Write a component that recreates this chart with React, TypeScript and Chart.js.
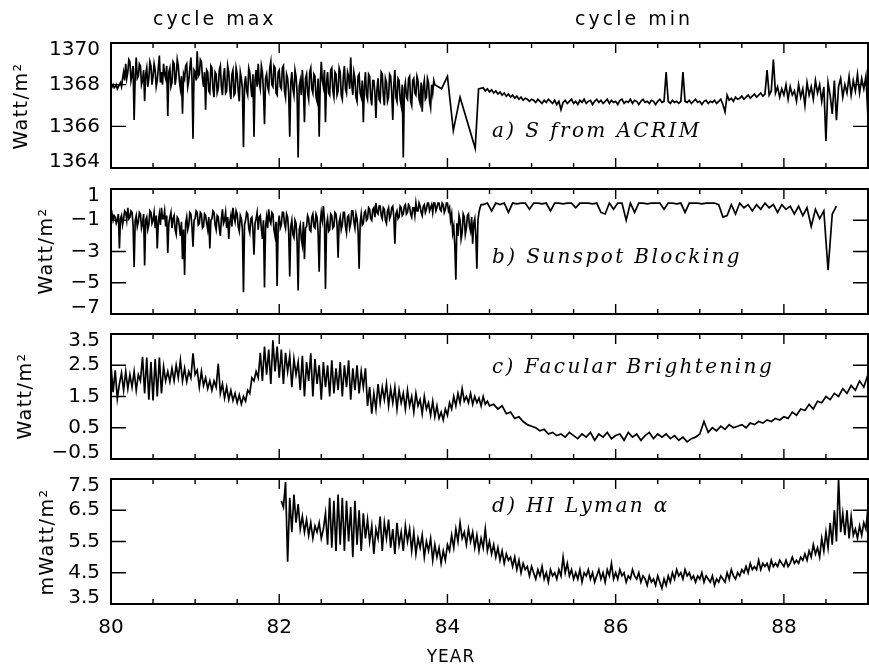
import { useEffect, useRef } from 'react';
import { Chart, registerables } from 'chart.js';

Chart.register(...registerables);

// ---------------- axes ----------------
const X_MIN = 80;
const X_MAX = 89;
const X_TICKS = [80, 82, 84, 86, 88];
const X_LABELS = ['80', '82', '84', '86', '88'];
const X_MINOR = [80.5, 81, 81.5, 82, 82.5, 83, 83.5, 84, 84.5, 85, 85.5, 86, 86.5, 87, 87.5, 88, 88.5];
const X_MAJOR = [82, 84, 86, 88];

const A_TICKS = [1364, 1366, 1368, 1370];
const A_LABELS = ['1364', '1366', '1368', '1370'];
const B_TICKS = [-7, -5, -3, -1, 1];
const B_LABELS = ['\u22127', '\u22125', '\u22123', '\u22121', '1'];
const C_TICKS = [-0.5, 0.5, 1.5, 2.5, 3.5];
const C_LABELS = ['\u22120.5', '0.5', '1.5', '2.5', '3.5'];
const D_TICKS = [3.5, 4.5, 5.5, 6.5, 7.5];
const D_LABELS = ['3.5', '4.5', '5.5', '6.5', '7.5'];

// ---------------- data ----------------
// a) S from ACRIM (W/m^2)
const A1_START = 80.0;
const A1_STEP = 0.0125;
const A1_VALUES = [
  1368.0, 1367.9, 1368.0, 1367.85, 1367.9, 1368.0, 1367.8, 1367.9, 1368.0, 1368.1,
  1367.9, 1368.3, 1368.6, 1368.2, 1369.0, 1368.3, 1368.6, 1369.2, 1369.1, 1368.2,
  1368.5, 1368.9, 1366.3, 1368.4, 1369.3, 1368.3, 1368.4, 1369.0, 1368.9, 1368.0,
  1368.2, 1368.7, 1367.2, 1368.5, 1368.8, 1367.9, 1368.3, 1369.1, 1368.9, 1368.0,
  1368.4, 1369.0, 1368.7, 1367.9, 1368.2, 1368.8, 1369.4, 1368.1, 1368.6, 1368.0,
  1369.0, 1368.5, 1368.3, 1368.9, 1366.5, 1368.6, 1368.8, 1367.9, 1368.1, 1369.1,
  1369.0, 1368.0, 1368.4, 1369.2, 1368.9, 1368.2, 1367.8, 1368.4, 1366.6, 1368.5,
  1368.3, 1368.9, 1369.0, 1367.9, 1368.2, 1368.8, 1369.3, 1368.3, 1365.4, 1368.7,
  1368.6, 1368.2, 1369.6, 1368.4, 1368.5, 1369.2, 1369.1, 1368.3, 1367.9, 1368.6,
  1366.8, 1368.7, 1368.6, 1367.7, 1367.6, 1368.9, 1368.8, 1367.8, 1367.4, 1368.6,
  1368.5, 1367.6, 1367.8, 1368.7, 1368.9, 1367.9, 1367.5, 1368.4, 1368.8, 1367.6,
  1367.7, 1368.9, 1368.6, 1367.8, 1367.3, 1368.5, 1368.7, 1367.5, 1367.6, 1368.8,
  1368.5, 1367.7, 1367.2, 1368.6, 1368.3, 1367.8, 1365.0, 1368.0, 1368.4, 1367.7,
  1367.5, 1368.8, 1368.6, 1367.9, 1367.4, 1368.5, 1365.5, 1368.2, 1368.7, 1367.9,
  1369.0, 1368.1, 1367.8, 1368.9, 1368.6, 1367.7, 1366.1, 1368.3, 1368.5, 1367.9,
  1367.7, 1368.8, 1369.1, 1368.0, 1367.9, 1368.9, 1368.8, 1367.6, 1367.5, 1368.6,
  1368.7, 1367.9, 1367.8, 1368.8, 1368.9, 1367.7, 1367.4, 1368.5, 1368.3, 1367.6,
  1365.5, 1368.1, 1368.6, 1367.8, 1367.5, 1368.7, 1368.4, 1367.6, 1364.5, 1367.9,
  1368.2, 1367.5, 1368.7, 1367.8, 1366.2, 1368.3, 1368.5, 1367.6, 1367.3, 1368.6,
  1368.8, 1367.8, 1367.6, 1368.5, 1368.4, 1367.4, 1367.2, 1368.3, 1365.5, 1368.0,
  1369.1, 1368.2, 1367.9, 1368.7, 1366.2, 1368.1, 1368.6, 1367.6, 1367.5, 1368.7,
  1368.8, 1367.7, 1367.4, 1368.6, 1368.5, 1367.5, 1367.7, 1368.8, 1368.6, 1367.5,
  1367.3, 1368.4, 1368.9, 1367.8, 1367.6, 1368.6, 1368.4, 1367.8, 1369.3, 1368.0,
  1367.5, 1368.6, 1368.3, 1367.4, 1367.2, 1368.4, 1368.5, 1367.6, 1367.4, 1368.2,
  1366.2, 1367.9, 1368.6, 1367.5, 1367.3, 1368.5, 1368.4, 1367.4, 1367.0, 1368.2,
  1368.2, 1367.6, 1366.4, 1367.8, 1368.3, 1367.3, 1367.2, 1368.6, 1368.5, 1367.5,
  1367.0, 1368.3, 1368.1, 1367.2, 1367.4, 1368.5, 1368.4, 1367.6, 1366.3, 1368.0,
  1368.7, 1367.4, 1367.2, 1368.3, 1368.2, 1367.3, 1367.0, 1368.0, 1364.5, 1367.8,
  1368.1, 1367.4, 1367.3, 1368.3, 1368.4, 1367.2, 1367.0, 1368.2, 1368.3, 1367.6,
  1367.5, 1368.4, 1368.2, 1367.3, 1367.1, 1368.1, 1366.7, 1367.9, 1368.2, 1367.3,
  1367.4, 1368.3, 1368.1, 1367.2, 1366.9, 1368.0, 1367.6, 1368.2, 1368.0,
];
const A2_YEARS = [83.93, 84.0, 84.07, 84.15, 84.33, 84.37];
const A2_VALUES = [1367.8, 1368.4, 1365.8, 1367.4, 1364.95, 1367.8];
const A3_START = 84.425;
const A3_STEP = 0.025;
const A3_VALUES = [
  1367.85, 1367.7, 1367.8, 1367.65,
  1367.75, 1367.6, 1367.7, 1367.55, 1367.65, 1367.5, 1367.6, 1367.45, 1367.55, 1367.4,
  1367.5, 1367.35, 1367.45, 1367.3, 1367.4, 1367.25, 1367.35, 1367.3, 1367.2, 1367.3,
  1367.25, 1367.15, 1367.3, 1367.2, 1367.1, 1367.25, 1367.15, 1367.3, 1367.2, 1367.1,
  1367.25, 1367.05, 1367.2, 1366.8, 1367.15, 1367.25, 1367.1, 1367.2, 1367.3, 1367.1,
  1367.2, 1367.05, 1367.25, 1367.15,
  1367.3, 1367.1, 1367.2, 1367.25, 1367.05, 1367.2, 1367.3, 1367.15, 1367.25, 1367.1,
  1367.2, 1367.3, 1367.1, 1367.25, 1367.15, 1367.2, 1367.05, 1367.25, 1367.3, 1367.1,
  1367.2, 1367.15, 1367.3, 1367.1, 1367.25, 1367.2, 1367.05, 1367.2, 1367.3, 1367.15,
  1367.2, 1367.1, 1367.25, 1367.2, 1367.05, 1367.2, 1367.3, 1367.15, 1367.2,
  1368.6,
  1367.2, 1367.1, 1367.25, 1367.15, 1367.2, 1367.1, 1367.2,
  1368.6,
  1367.2, 1367.15, 1367.25, 1367.1, 1367.2, 1367.3, 1367.15, 1367.2, 1367.05, 1367.2,
  1367.25, 1367.1, 1367.2, 1367.15, 1367.25, 1367.1, 1367.2, 1367.3, 1367.05,
  1366.7, 1367.5,
  1367.25, 1367.35, 1367.2, 1367.4, 1367.3, 1367.35, 1367.45, 1367.3, 1367.4, 1367.5,
  1367.35, 1367.45, 1367.55, 1367.4, 1367.5, 1367.6, 1367.45, 1367.55,
  1368.7,
  1367.5, 1367.7, 1369.2, 1367.6,
  1367.9, 1367.4, 1367.8, 1367.5, 1368.0, 1367.3, 1367.9, 1367.5, 1367.7, 1367.2,
  1368.0, 1367.4, 1367.8, 1367.0, 1368.1, 1367.5, 1367.9, 1367.3, 1368.2, 1367.6,
  1368.0, 1367.2, 1367.9, 1365.3, 1368.1, 1367.5, 1366.6, 1368.2, 1366.3, 1367.9,
  1368.3, 1367.4, 1368.0, 1367.6, 1368.4, 1367.5, 1368.2, 1367.7, 1368.5, 1367.6,
  1368.3, 1367.8, 1368.4, 1366.4,
];

// b) Sunspot Blocking (W/m^2)
const B1_START = 80.0;
const B1_STEP = 0.0125;
const B1_VALUES = [
  -0.9, -0.6, -1.0, -0.7, -0.8, -1.2, -1.0, -0.6, -2.8, -0.9,
  -0.7, -1.3, -0.9, -0.4, -0.5, -1.0, -0.2, -0.9, -0.8, -0.4,
  -0.5, -1.3, -4.0, -1.0, -0.7, -1.4, -1.1, -0.5, -0.6, -1.5,
  -1.2, -0.6, -3.9, -1.0, -0.8, -1.6, -1.3, -0.4, -0.5, -1.2,
  -1.0, -0.5, -1.5, -0.7, -2.8, -1.1, -0.6, -1.3, -0.2, -0.9,
  -0.9, -0.4, -1.4, -0.7, -3.1, -1.2, -0.8, -0.5, -1.5, -0.9,
  -0.7, -1.6, -1.9, -0.8, -0.9, -1.4, -2.0, -1.1, -3.5, -1.6,
  -4.5, -1.2, -0.8, -1.6, -1.3, -0.5, -0.6, -1.4, -2.7, -1.0,
  -0.9, -0.4, -0.5, -1.3, -1.2, -0.5, -0.6, -1.5, -1.4, -0.6,
  -0.7, -1.2, -1.6, -0.8, -2.8, -1.0, -0.9, -0.4, -0.5, -1.3,
  -1.6, -0.7, -0.8, -1.5, -2.0, -0.9, -0.3, -1.2, -1.0, -0.5,
  -1.5, -0.8, -2.2, -1.1, -0.7, -1.4, -0.2, -0.8, -1.1, -0.4,
  -0.6, -1.4, -1.7, -0.7, -0.9, -1.6, -5.6, -1.3, -1.0, -0.5,
  -0.6, -1.5, -1.8, -0.9, -0.8, -1.6, -3.2, -1.2, -0.9, -0.5,
  -1.6, -0.8, -0.7, -1.5, -2.2, -1.0, -5.3, -1.4, -0.8, -1.5,
  -0.3, -1.0, -1.2, -0.5, -0.6, -1.6, -2.0, -1.1, -5.2, -1.3,
  -0.7, -1.5, -1.3, -0.5, -0.5, -1.2, -1.5, -0.6, -0.8, -1.7,
  -4.6, -1.4, -1.0, -1.9, -2.1, -1.0, -1.2, -2.4, -5.5, -1.6,
  -1.3, -2.2, -2.6, -1.1, -3.5, -1.5, -1.4, -0.7, -0.9, -1.6,
  -1.7, -0.8, -0.6, -1.4, -1.5, -0.6, -0.8, -1.8, -4.3, -1.2,
  -0.5, -1.0, -0.1, -0.9, -5.4, -1.3, -0.9, -1.7, -1.6, -0.6,
  -0.7, -1.5, -1.4, -0.5, -0.6, -1.3, -3.4, -1.1, -0.8, -1.6,
  -1.3, -0.5, -0.5, -1.4, -1.8, -0.8, -0.7, -1.5, -1.2, -0.4,
  -0.4, -1.1, -1.5, -0.6, -0.9, -1.7, -4.1, -1.2, -0.6, -1.3,
  -1.2, -0.5, -0.4, -1.0, -0.9, -0.2, -0.3, -0.9, -1.0, -0.3,
  -0.2, -0.8, 0.1, -0.5, -0.6, -0.1, -0.1, -0.7, -0.9, -0.2,
  -0.3, -1.0, -1.2, -0.4, -0.2, -0.9, -0.7, -0.2, -0.1, -0.8,
  -2.5, -0.6, -0.4, -0.9, -0.8, -0.1, -0.2, -0.7, -0.6, -0.1,
  0.0, -0.6, -0.5, 0.0, -0.1, -0.6, -0.8, -0.2, -0.2, -0.7,
  0.1, -0.4, -0.4, 0.1, -0.1, -0.5, -0.7, -0.1, 0.0, -0.5,
  -0.3, 0.1, 0.1, -0.4, -0.2, 0.0, -0.5, 0.1, 0.1, -0.4,
  -0.2, 0.1, 0.1, -0.3, -0.4, 0.1, 0.0, -0.5, -0.3, 0.1,
  0.1, -0.4, -0.2, -1.0, -0.6, -1.8, -1.4, -2.6, -4.8, -1.2,
  -2.0, -0.7, -1.0, -2.2, -1.8, -0.6, -0.8, -1.9, -1.5, -0.7,
  -0.6, -1.4, -1.7, -0.8, -2.5, -1.2, -0.9, -2.0, -4.1, -1.0,
  -0.5, -0.2, 0.0,
];
const B2_START = 84.425;
const B2_STEP = 0.05;
const B2_VALUES = [
  0.0, 0.1, -0.4, 0.1, 0.0, 0.1, -0.5, 0.1, 0.05, 0.1,
  0.1, -0.3, 0.1, 0.1, 0.05, 0.1, -0.4, 0.1, 0.1, 0.05,
  0.1, 0.1, -0.2, 0.1, 0.1, 0.1, 0.05, 0.1, -0.5, -0.6,
  0.1, -0.3, 0.1, 0.1, -1.0, 0.1, -0.5, 0.1, 0.1, 0.05,
  0.1, 0.1, 0.1, -0.3, 0.1, 0.1, 0.05, 0.1, -0.5, 0.1,
  0.1, 0.1, 0.05, 0.1, 0.1, 0.1, 0.0, -0.8, -0.7, 0.0,
  -0.6, 0.1, -0.2, 0.0, -0.4, 0.0, -0.3, 0.1, -0.2, 0.0,
  -0.5, 0.0, -0.3, -0.1, -0.6, -0.1, -0.7, -0.2, -1.4, -0.3,
  -0.9, -0.4, -4.2, -0.6, -0.1,
];

// c) Facular Brightening (W/m^2)
const C1_START = 80.0;
const C1_STEP = 0.025;
const C1_VALUES = [
  2.5, 1.64, 2.34, 1.43, 1.9, 2.25, 1.7, 2.3, 1.75, 2.2,
  1.8, 2.3, 1.7, 2.2, 2.0, 2.77, 1.6, 2.75, 1.4, 2.6,
  1.37, 2.7, 1.5, 2.75, 1.6, 2.45, 2.0, 2.3, 1.97, 2.4,
  2.0, 2.5, 2.1, 2.66, 2.0, 2.4, 1.97, 2.3, 2.1, 2.88,
  2.2, 2.34, 1.8, 2.3, 1.85, 2.1, 1.75, 2.0, 1.7, 2.0,
  1.8, 2.55, 1.6, 1.9, 1.45, 1.8, 1.4, 1.7, 1.37, 1.6,
  1.3, 1.55, 1.26, 1.5, 1.35, 1.7, 1.6, 2.1, 2.0, 2.3,
  2.1, 2.9, 2.0, 3.1, 2.2, 3.0, 1.9, 3.3, 2.3, 3.1,
  2.1, 3.0, 1.9, 2.9, 2.3, 2.8, 1.8, 2.7, 2.2, 2.6,
  1.7, 2.8, 1.5, 2.6, 2.0, 2.88, 1.5, 2.7, 1.9, 2.5,
  1.4, 2.6, 1.8, 2.5, 1.5, 2.66, 1.6, 2.4, 1.7, 2.6,
  1.5, 2.5, 1.8, 2.66, 1.4, 2.4, 1.7, 2.5, 1.6, 2.3,
  1.8, 2.4, 1.2, 1.8, 0.95, 1.6, 1.1, 1.9, 1.3, 1.8,
  1.4, 1.9, 1.2, 1.75, 1.3, 1.8, 1.1, 1.7, 1.3, 1.6,
  1.1, 1.7, 1.2, 1.5, 1.0, 1.6, 1.2, 1.4, 0.95, 1.5,
  1.1, 1.3, 0.9, 1.35, 0.85, 1.2, 0.8, 1.0, 0.75, 1.1,
  0.9, 1.3, 1.1, 1.5, 1.2, 1.6, 1.3, 1.75, 1.35, 1.5,
  1.3, 1.6, 1.25, 1.5, 1.3, 1.45, 1.2, 1.5, 1.25, 1.35,
  1.2,
];
const C2_START = 84.55;
const C2_STEP = 0.05;
const C2_VALUES = [
  1.25, 1.1, 1.2, 0.95, 1.0, 0.8, 0.85, 0.7, 0.6, 0.55,
  0.5, 0.4, 0.45, 0.3, 0.35, 0.25, 0.3, 0.2, 0.35, 0.25,
  0.15, 0.3, 0.2, 0.35, 0.1, 0.3, 0.2, 0.35, 0.15, 0.25,
  0.3, 0.1, 0.35, 0.2, 0.3, 0.1, 0.25, 0.35, 0.15, 0.3,
  0.2, 0.3, 0.15, 0.25, 0.1, 0.2, 0.05, 0.15, 0.2, 0.3,
  0.7, 0.35, 0.5, 0.4, 0.55, 0.45, 0.6, 0.5, 0.55, 0.6,
  0.5, 0.65, 0.6, 0.7, 0.65, 0.75, 0.7, 0.8, 0.75, 0.85,
  0.8, 1.0, 0.9, 1.1, 1.05, 1.25, 1.1, 1.35, 1.3, 1.5,
  1.4, 1.6, 1.5, 1.75, 1.6, 1.85, 1.7, 2.0, 1.8, 2.2,
];

// d) HI Lyman alpha (mW/m^2)
const D_START = 82.025;
const D_STEP = 0.025;
const D_VALUES = [
  6.8, 6.6, 7.4, 4.85, 6.9, 5.8, 7.0, 6.1, 6.7, 5.9,
  6.3, 5.8, 6.2, 5.7, 6.1, 5.6, 6.0, 5.8, 6.1, 5.6,
  5.9, 6.4, 5.4, 6.9, 5.3, 6.8, 5.2, 7.0, 5.4, 6.9,
  5.2, 6.8, 5.5, 6.6, 5.0, 6.8, 5.4, 6.5, 5.2, 6.4,
  5.6, 6.2, 5.5, 6.0, 5.1, 5.9, 5.6, 6.3, 5.2, 6.1,
  5.6, 6.2, 5.3, 5.9, 5.1, 6.1, 5.4, 5.8, 5.2, 6.0,
  5.5, 5.9, 5.2, 5.8, 5.1, 5.6, 5.3, 5.7, 5.0, 5.5,
  5.2, 5.6, 4.9, 5.4, 5.0, 5.3, 4.8, 5.2, 4.9, 5.4,
  5.2, 5.7, 5.3, 5.9, 5.5, 6.1, 5.6, 5.8, 5.4, 5.9,
  5.5, 5.8, 5.3, 5.7, 5.2, 5.6, 5.3, 5.9, 5.2, 5.5,
  5.1, 5.4, 5.0, 5.3, 4.9, 5.2, 4.8, 5.1, 4.9, 5.0,
  4.7, 5.0, 4.6, 4.9, 4.5, 4.8, 4.6, 4.7, 4.4, 4.7,
  4.5, 4.3, 4.6, 4.4, 4.7, 4.3, 4.5, 4.2, 4.6, 4.4,
  4.5, 4.3, 4.6, 4.4, 5.0, 4.5, 4.8, 4.4, 4.6, 4.3,
  4.5, 4.3, 4.6, 4.2, 4.5, 4.4, 4.6, 4.3, 4.5, 4.2,
  4.4, 4.6, 4.3, 4.5, 4.2, 4.6, 4.4, 4.8, 4.3, 4.5,
  4.3, 4.6, 4.4, 4.5, 4.2, 4.4, 4.3, 4.6, 4.4, 4.3,
  4.5, 4.2, 4.4, 4.3, 4.1, 4.4, 4.2, 4.3, 4.1, 4.4,
  4.2, 4.0, 4.3, 4.1, 4.4, 4.2, 4.5, 4.3, 4.6, 4.4,
  4.5, 4.3, 4.6, 4.4, 4.5, 4.3, 4.4, 4.2, 4.4, 4.3,
  4.5, 4.2, 4.4, 4.3, 4.2, 4.4, 4.1, 4.3, 4.2, 4.4,
  4.3, 4.2, 4.5, 4.3, 4.6, 4.4, 4.3, 4.5, 4.4, 4.6,
  4.5, 4.7, 4.5, 4.8, 4.6, 4.7, 4.6, 4.9, 4.6, 4.8,
  4.7, 4.8, 4.6, 4.9, 4.7, 4.8, 4.7, 4.9, 4.8, 4.7,
  4.9, 4.7, 4.8, 5.0, 4.8, 4.9, 4.8, 5.0, 4.9, 5.1,
  4.9, 5.2, 5.0, 5.4, 5.1, 5.3, 5.0, 5.6, 5.2, 5.8,
  5.3, 6.1, 5.4, 6.5, 5.5, 7.5, 5.8, 6.4, 5.7, 6.5,
  5.6, 6.3, 5.7, 5.9, 5.6, 6.0, 5.7, 6.1, 5.9, 6.6,
];

// ---------------- helpers ----------------
type Pt = { x: number; y: number };
const stepSeries = (start: number, step: number, vals: number[]): Pt[] =>
  vals.map((y, i) => ({ x: Math.round((start + i * step) * 10000) / 10000, y }));
const pairSeries = (xs: number[], ys: number[]): Pt[] => xs.map((x, i) => ({ x, y: ys[i] }));

const SANS = "'DejaVu Sans', 'Verdana', sans-serif";
const SERIF = "'DejaVu Serif', serif";
const PLOT_H = 125;
const PAD = 25;
const LABEL_NUDGE_TOP = 7;
const LABEL_NUDGE_BOTTOM = 6;
const X_AXIS_H = 45;
const TICK_FONT = 20;

type PanelCfg = {
  id: string;
  plotTop: number;
  showX: boolean;
  yMin: number;
  yMax: number;
  yTicks: number[];
  yLabels: string[];
  points: Pt[];
};

const PANELS: PanelCfg[] = [
  {
    id: 'a', plotTop: 43, showX: false,
    yMin: 1364, yMax: 1370, yTicks: A_TICKS, yLabels: A_LABELS,
    points: [
      ...stepSeries(A1_START, A1_STEP, A1_VALUES),
      ...pairSeries(A2_YEARS, A2_VALUES),
      ...stepSeries(A3_START, A3_STEP, A3_VALUES),
    ],
  },
  {
    id: 'b', plotTop: 189, showX: false,
    yMin: -7, yMax: 1, yTicks: B_TICKS, yLabels: B_LABELS,
    points: [...stepSeries(B1_START, B1_STEP, B1_VALUES), ...stepSeries(B2_START, B2_STEP, B2_VALUES)],
  },
  {
    id: 'c', plotTop: 334, showX: false,
    yMin: -0.5, yMax: 3.5, yTicks: C_TICKS, yLabels: C_LABELS,
    points: [...stepSeries(C1_START, C1_STEP, C1_VALUES), ...stepSeries(C2_START, C2_STEP, C2_VALUES)],
  },
  {
    id: 'd', plotTop: 479, showX: true,
    yMin: 3.5, yMax: 7.5, yTicks: D_TICKS, yLabels: D_LABELS,
    points: stepSeries(D_START, D_STEP, D_VALUES),
  },
];

function makeFramePlugin(yTicks: number[]) {
  return {
    id: 'frameTicks',
    afterDatasetsDraw(chart: any) {
      const { ctx, chartArea: a } = chart;
      const xs = chart.scales.x;
      const ys = chart.scales.y;
      ctx.save();
      ctx.strokeStyle = '#000';
      ctx.lineWidth = 1.4;
      ctx.beginPath();
      for (const v of X_MINOR) {
        const px = xs.getPixelForValue(v);
        const len = X_MAJOR.includes(v) ? 10 : 5;
        ctx.moveTo(px, a.bottom);
        ctx.lineTo(px, a.bottom - len);
        ctx.moveTo(px, a.top);
        ctx.lineTo(px, a.top + len);
      }
      for (const v of yTicks.slice(1, -1)) {
        const py = ys.getPixelForValue(v);
        ctx.moveTo(a.left, py);
        ctx.lineTo(a.left + 15, py);
        ctx.moveTo(a.right, py);
        ctx.lineTo(a.right - 15, py);
      }
      ctx.stroke();
      ctx.lineWidth = 2;
      ctx.strokeRect(a.left, a.top, a.right - a.left, a.bottom - a.top);
      ctx.restore();
    },
  };
}

function Panel({ cfg }: { cfg: PanelCfg }) {
  const ref = useRef<HTMLCanvasElement | null>(null);
  const canvasTop = cfg.plotTop - PAD;
  const padBottom = cfg.showX ? 5 : PAD;
  const canvasH = PAD + PLOT_H + (cfg.showX ? X_AXIS_H : 0) + padBottom;
  useEffect(() => {
    const canvas = ref.current;
    if (!canvas) return;
    const span = cfg.yMax - cfg.yMin;
    const chart = new Chart(canvas, {
      type: 'line',
      data: {
        datasets: [
          {
            data: cfg.points as any,
            borderColor: '#000',
            borderWidth: 1.7,
            pointRadius: 0,
            tension: 0,
            fill: false,
          },
        ],
      },
      options: {
        animation: false,
        responsive: false,
        maintainAspectRatio: false,
        parsing: false,
        events: [],
        layout: { padding: { top: PAD, bottom: padBottom, left: 0, right: 1 } },
        plugins: { legend: { display: false }, tooltip: { enabled: false }, title: { display: false } },
        scales: {
          x: {
            type: 'linear',
            min: X_MIN,
            max: X_MAX,
            display: cfg.showX,
            position: 'bottom',
            grid: { display: false, drawTicks: false },
            border: { display: false },
            ticks: {
              color: '#000',
              font: { family: SANS, size: TICK_FONT },
              padding: 12,
              maxRotation: 0,
              autoSkip: false,
              callback: (_v: any, i: number) => X_LABELS[i],
            },
            afterBuildTicks: (s: any) => {
              s.ticks = X_TICKS.map((v) => ({ value: v }));
            },
            afterFit: (s: any) => {
              if (cfg.showX) s.height = X_AXIS_H;
            },
          },
          y: {
            type: 'linear',
            min: cfg.yMin,
            max: cfg.yMax,
            position: 'left',
            grid: { display: false, drawTicks: false },
            border: { display: false },
            ticks: {
              color: '#000',
              font: { family: SANS, size: TICK_FONT },
              padding: 11,
              autoSkip: false,
              callback: (_v: any, i: number) => cfg.yLabels[i],
            },
            afterBuildTicks: (s: any) => {
              const last = cfg.yTicks.length - 1;
              s.ticks = cfg.yTicks.map((v, i) => ({
                value:
                  i === 0
                    ? v + (LABEL_NUDGE_BOTTOM * span) / PLOT_H
                    : i === last
                    ? v - (LABEL_NUDGE_TOP * span) / PLOT_H
                    : v,
              }));
            },
            afterFit: (s: any) => {
              s.width = 111;
            },
          },
        },
      } as any,
      plugins: [makeFramePlugin(cfg.yTicks)],
    });
    return () => chart.destroy();
  }, [cfg]);
  return (
    <canvas
      ref={ref}
      width={869}
      height={canvasH}
      style={{ position: 'absolute', left: 0, top: canvasTop, width: 869, height: canvasH }}
    />
  );
}

const topTextStyle = (left: number): React.CSSProperties => ({
  position: 'absolute',
  left,
  top: 8,
  fontFamily: SANS,
  fontSize: 19,
  lineHeight: '20px',
  letterSpacing: 3,
  whiteSpace: 'nowrap',
  color: '#000',
});

const yTitleStyle = (cx: number, cy: number): React.CSSProperties => ({
  position: 'absolute',
  left: cx,
  top: cy,
  transform: 'translate(-50%, -50%) rotate(-90deg)',
  fontFamily: SANS,
  fontSize: 19,
  lineHeight: '20px',
  letterSpacing: 1.5,
  whiteSpace: 'nowrap',
  color: '#000',
});

const panelLabelStyle = (top: number): React.CSSProperties => ({
  position: 'absolute',
  left: 492,
  top,
  fontFamily: SERIF,
  fontStyle: 'italic',
  fontSize: 20,
  lineHeight: '22px',
  letterSpacing: 2.4,
  whiteSpace: 'nowrap',
  color: '#000',
});

export default function App() {
  return (
    <div
      style={{
        position: 'absolute',
        left: 0,
        top: 0,
        width: 869,
        height: 669,
        background: '#fff',
        overflow: 'hidden',
      }}
    >
      {PANELS.map((p) => (
        <Panel key={p.id} cfg={p} />
      ))}
      <div style={topTextStyle(153)}>cycle max</div>
      <div style={topTextStyle(575)}>cycle min</div>

      <div style={yTitleStyle(20, 106)}>Watt/m²</div>
      <div style={yTitleStyle(45, 251)}>Watt/m²</div>
      <div style={yTitleStyle(24, 396)}>Watt/m²</div>
      <div style={yTitleStyle(46, 542)}>mWatt/m²</div>

      <div style={panelLabelStyle(119)}>a) S from ACRIM</div>
      <div style={panelLabelStyle(245)}>b) Sunspot Blocking</div>
      <div style={panelLabelStyle(355)}>c) Facular Brightening</div>
      <div style={panelLabelStyle(494)}>d) HI Lyman α</div>

      <div
        style={{
          position: 'absolute',
          left: 451,
          top: 646,
          transform: 'translateX(-50%)',
          fontFamily: SANS,
          fontSize: 17,
          lineHeight: '20px',
          letterSpacing: 1,
          whiteSpace: 'nowrap',
          color: '#000',
        }}
      >
        YEAR
      </div>
    </div>
  );
}
